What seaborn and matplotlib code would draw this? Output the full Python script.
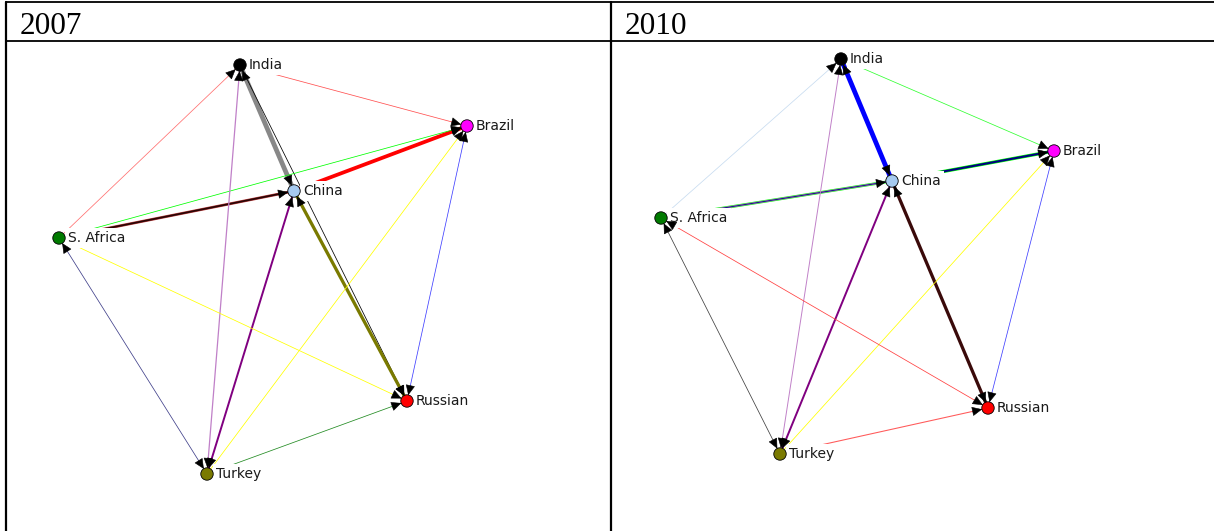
import numpy as np
import pandas as pd
import matplotlib.pyplot as plt
from matplotlib.patches import FancyArrowPatch
import seaborn as sns

sns.set_theme(style="white")

# --- data: node layout (NetDraw-style coordinates) ---
nodes = ["India", "Brazil", "China", "S. Africa", "Russian", "Turkey"]
x_2007 = [234, 461, 288, 53, 401, 201]
y_2007 = [22, 83, 148, 195, 358, 431]
x_2010 = [230, 443, 281, 50, 377, 169]
y_2010 = [16, 108, 138, 175, 365, 411]

# --- ties: source, target, mutual?, tie strength ---
src_2007 = ["India", "S. Africa", "India", "India", "China", "S. Africa", "S. Africa",
            "China", "Turkey", "Turkey", "Turkey", "S. Africa", "S. Africa", "Brazil", "Turkey"]
dst_2007 = ["Brazil", "India", "China", "Russian", "Brazil", "Brazil", "China",
            "Russian", "India", "China", "Brazil", "Russian", "Turkey", "Russian", "Russian"]
mutual_2007 = [False, False, True, False, False, False, False,
               True, True, True, False, False, True, True, False]
weight_2007 = [1, 1, 5, 1, 4, 1, 3, 3.5, 1.5, 2.2, 1, 1, 1, 1, 1]

src_2010 = ["India", "India", "S. Africa", "S. Africa", "China", "Turkey", "Turkey",
            "China", "Turkey", "Russian", "S. Africa", "S. Africa", "Turkey"]
dst_2010 = ["China", "Brazil", "India", "China", "Brazil", "India", "China",
            "Russian", "Brazil", "Brazil", "Turkey", "Russian", "Russian"]
mutual_2010 = [True, False, False, False, False, True, True,
               True, False, True, True, True, False]
weight_2010 = [5, 1, 1, 3, 3.5, 1.2, 2.2, 3.5, 1, 1, 1, 1, 1.3]

# --- styles ---
node_palette = {"India": "#000000", "Brazil": "#FF00FF", "China": "#A6CAF0",
                "S. Africa": "#007A00", "Russian": "#FF0000", "Turkey": "#7A7A00"}
colors_2007 = [["#FF5050"], ["#FF7070"], ["#888888"], ["#000000"], ["#FF0000"], ["#00FF00"],
               ["#C04040", "#2A0505"], ["#7A7A00"], ["#C080C8"], ["#800080"], ["#FFFF00"],
               ["#FFFF00"], ["#40408A"], ["#4040FF"], ["#228B22"]]
colors_2010 = [["#0000FF"], ["#33FF33"], ["#C8DCF0"], ["#00FF00", "#C080C8", "#000080"],
               ["#00FF00", "#000080"], ["#C080C8"], ["#800080"], ["#3A0A0A"], ["#FFFF00"],
               ["#4040FF"], ["#404040"], ["#FF4040"], ["#FF5A5A"]]

W, H = 1214, 531
fig = plt.figure(figsize=(W / 100, H / 100), dpi=100)

# table frame and headers
bg = fig.add_axes([0, 0, 1, 1])
bg.set_xlim(0, W)
bg.set_ylim(H, 0)
bg.axis("off")
bg.plot([6, W], [2, 2], color="black", lw=1.3)
bg.plot([6, W], [41, 41], color="black", lw=1.3)
bg.plot([6, 6], [2, H], color="black", lw=1.6)
bg.plot([611, 611], [2, H], color="black", lw=1.6)
bg.text(20, 34, "2007", family="Liberation Serif", fontsize=22.5, color="black")
bg.text(625, 34, "2010", family="Liberation Serif", fontsize=22.5, color="black")

R = 6  # node radius (px)


def draw_panel(left, width, xs, ys, srcs, dsts, mutual, weights, colors):
    ax = fig.add_axes([left / W, 0, width / W, (H - 43) / H])
    ax.set_xlim(0, width)
    ax.set_ylim(H - 43, 0)
    ax.axis("off")
    pos = {n: np.array([x, y], dtype=float) for n, x, y in zip(nodes, xs, ys)}

    for s, d, m, w, cols in zip(srcs, dsts, mutual, weights, colors):
        p0, p1 = pos[s], pos[d]
        lw = 0.55 + (w - 1) * 0.72
        for i, c in enumerate(cols):
            ax.plot([p0[0], p1[0]], [p0[1], p1[1]], color=c,
                    lw=lw * (1 - 0.35 * i) if len(cols) > 1 else lw,
                    solid_capstyle="butt", zorder=1)
        ends = [(p0, p1)] + ([(p1, p0)] if m else [])
        for a, b in ends:
            u = (b - a) / np.linalg.norm(b - a)
            tip = b - u * R
            tail = tip - u * 9
            ax.add_patch(FancyArrowPatch(tail, tip, arrowstyle="-|>,head_length=0.65,head_width=0.3",
                                         mutation_scale=10, color="black", lw=0.4,
                                         shrinkA=0, shrinkB=0, zorder=3))

    for n in nodes:
        ax.text(pos[n][0] + R + 3, pos[n][1], n, family="DejaVu Sans", fontsize=10,
                color="#1a1a1a", va="center", ha="left", zorder=2,
                bbox=dict(boxstyle="square,pad=0.25", fc="white", ec="none"))

    df = pd.DataFrame({"x": xs, "y": ys, "node": nodes})
    sns.scatterplot(data=df, x="x", y="y", hue="node", palette=node_palette, s=80,
                    edgecolor="black", linewidth=0.6, legend=False, ax=ax, zorder=4)
    ax.set_xlabel("")
    ax.set_ylabel("")
    ax.axis("off")


draw_panel(6, 605, x_2007, y_2007, src_2007, dst_2007, mutual_2007, weight_2007, colors_2007)
draw_panel(611, 603, x_2010, y_2010, src_2010, dst_2010, mutual_2010, weight_2010, colors_2010)

fig.savefig("out.png", dpi=100)
